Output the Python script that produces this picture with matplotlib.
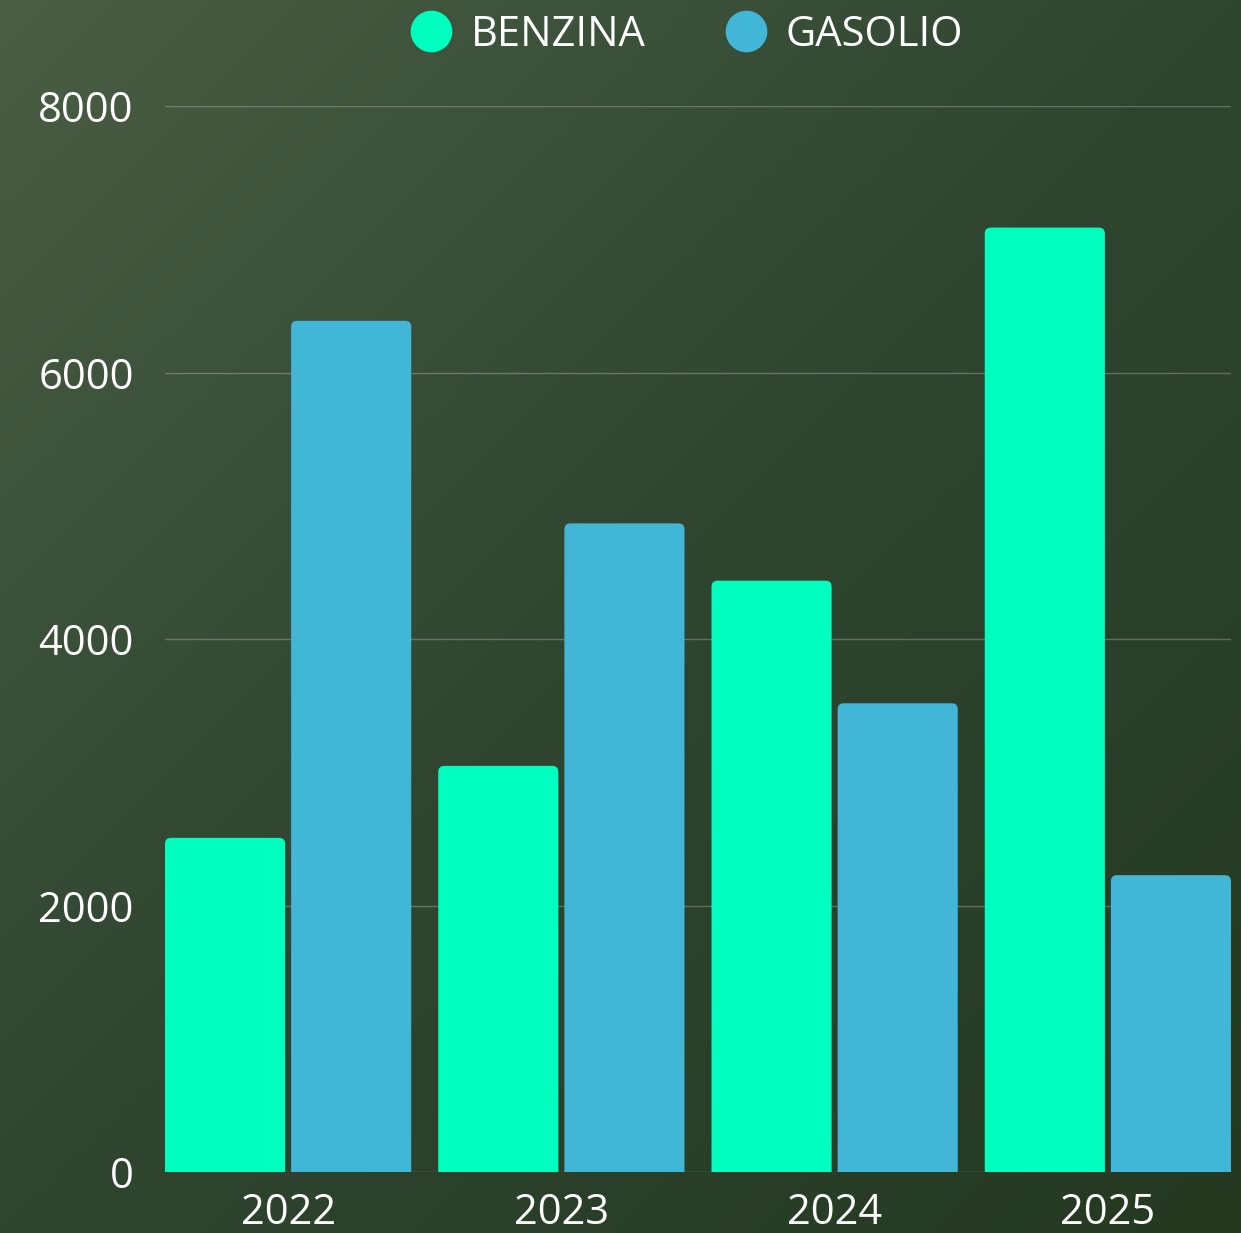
import numpy as np
import matplotlib
matplotlib.use("Agg")
import matplotlib.pyplot as plt
from matplotlib.colors import LinearSegmentedColormap
from matplotlib.lines import Line2D
from matplotlib.patches import FancyBboxPatch

years = ["2022", "2023", "2024", "2025"]
benzina = [2510, 3050, 4440, 7090]
gasolio = [6390, 4870, 3520, 2230]
series_names = ["BENZINA", "GASOLIO"]
y_ticks = [0, 2000, 4000, 6000, 8000]

col_benzina = "#00FFBF"
col_gasolio = "#42B6D6"

plt.rcParams["font.family"] = ["Open Sans", "DejaVu Sans"]

W, H = 1241, 1233
fig = plt.figure(figsize=(W / 100, H / 100), dpi=100)

# background gradient, top-left lighter to bottom-right darker
bg = fig.add_axes([0, 0, 1, 1], zorder=-10)
gx, gy = np.meshgrid(np.linspace(0, 1, 400), np.linspace(0, 1, 400))
grad = (gx + gy) / 2
cmap = LinearSegmentedColormap.from_list(
    "bg", [(0, "#4a5e44"), (0.5, "#2f4530"), (1, "#253921")]
)
bg.imshow(grad, cmap=cmap, extent=(0, 1, 0, 1), aspect="auto", origin="upper")
bg.axis("off")

left, right = 165 / W, 1231 / W
bottom, top = (H - 1172.3) / H, (H - 106.3) / H
ax = fig.add_axes([left, bottom, right - left, top - bottom])
ax.set_facecolor("none")

group_w = 246 / 273
bar_w = 120 / 273
gap = 6 / 273
off = bar_w / 2 + gap / 2
x = np.arange(len(years))

ax.set_xlim(-group_w / 2, len(years) - 1 + group_w / 2)
ax.set_ylim(0, 8000)

bars1 = ax.bar(x - off, benzina, bar_w, color=col_benzina, zorder=3)
bars2 = ax.bar(x + off, gasolio, bar_w, color=col_gasolio, zorder=3)

# swap plain rectangles for ones with rounded top corners
fig.canvas.draw()
px_x = ax.transData.transform((1, 0))[0] - ax.transData.transform((0, 0))[0]
px_y = ax.transData.transform((0, 1))[1] - ax.transData.transform((0, 0))[1]
r_px = 6
rx = r_px / px_x
ry = r_px / px_y
for bars in (bars1, bars2):
    for b in bars:
        b.set_visible(False)
        p = FancyBboxPatch(
            (b.get_x(), -ry * 2), b.get_width(), b.get_height() + ry * 2,
            boxstyle=f"round,pad=0,rounding_size={rx}",
            mutation_aspect=ry / rx,
            facecolor=b.get_facecolor(), edgecolor="none", zorder=3,
        )
        ax.add_patch(p)

ax.set_yticks(y_ticks)
ax.set_yticklabels([str(v) for v in y_ticks])
ax.set_xticks(x)
ax.set_xticklabels(years)
ax.tick_params(axis="both", length=0, labelsize=30, labelcolor="white")
ax.tick_params(axis="y", pad=22.5)
ax.tick_params(axis="x", pad=14)
ax.grid(axis="y", color="white", alpha=0.25, linewidth=1.0, zorder=0)
for s in ax.spines.values():
    s.set_visible(False)

handles = [
    Line2D([], [], marker="o", linestyle="", markersize=30,
           markerfacecolor=c, markeredgecolor="none")
    for c in (col_benzina, col_gasolio)
]
fig.legend(
    handles, series_names,
    loc="center", bbox_to_anchor=(686.5 / W, 1 - 35 / H),
    ncol=2, frameon=False, fontsize=30, labelcolor="white",
    handlelength=1.0, handletextpad=0.45, columnspacing=1.9,
    borderpad=0, borderaxespad=0,
)

fig.savefig("out.png", dpi=100)
